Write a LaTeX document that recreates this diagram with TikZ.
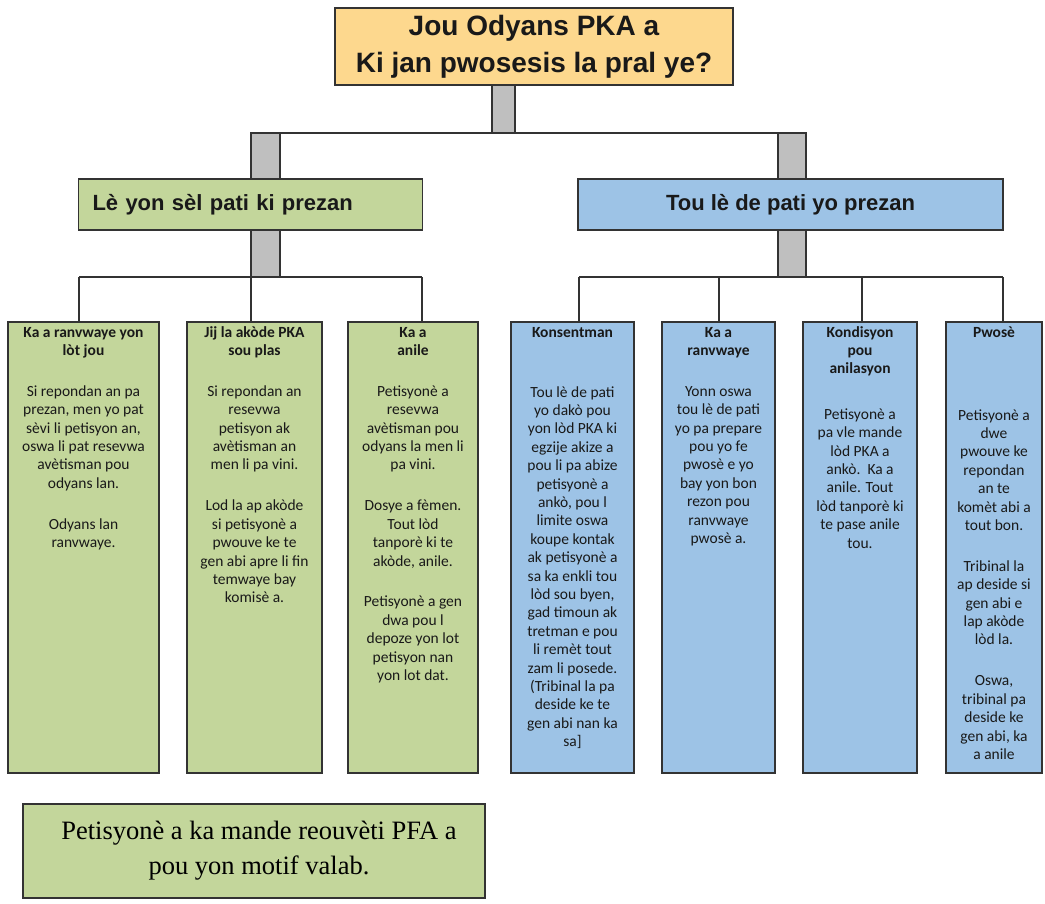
\documentclass[tikz,border=0pt]{standalone}
\usepackage{fontspec}
\setmainfont{Liberation Serif}
\newfontfamily\arialf{Liberation Sans}
\newfontfamily\calf{Carlito}
\definecolor{ylw}{HTML}{FDD88E}
\definecolor{grn}{HTML}{C3D69B}
\definecolor{blu}{HTML}{9DC3E6}
\definecolor{bargray}{HTML}{BFBFBF}
\definecolor{edge}{HTML}{333333}
\newcommand\fl{\rule{0pt}{12pt}}
\newcommand\tb{\bfseries}
\pgfdeclarelayer{bg}
\pgfsetlayers{bg,main}
\begin{document}
\begin{tikzpicture}[x=1pt,y=-1pt,
  every node/.style={inner sep=0pt, outer sep=0pt},
  frame/.style={draw=edge, line width=1.6pt, rectangle},
  conn/.style={draw=edge, line width=1.8pt},
  bar/.style={fill=bargray, draw=edge, line width=1.2pt},
  ctext/.style={anchor=north, align=center, font=\calf\fontsize{15.5}{18.4}\selectfont, text=black!90},
  cbox/.style={frame, minimum height=451pt},
]
\useasboundingbox (0,0) rectangle (1045,903);

% title
\node[frame, fill=ylw, minimum width=398pt, minimum height=77pt, align=center,
  font=\arialf\bfseries\fontsize{28}{37}\selectfont, text=black!90] (top) at (534,46.5)
  {Jou Odyans PKA a\\Ki jan pwosesis la pral ye?};

% middle boxes
\node[frame, fill=grn, text width=316pt, inner xsep=14pt, minimum height=51pt, align=left,
  font=\arialf\bfseries\fontsize{22}{26}\selectfont, text=black!90] (ml) at (250.5,204.5)
  {Lè yon sèl pati ki prezan};
\node[frame, fill=blu, minimum width=425pt, minimum height=51pt, align=center,
  font=\arialf\bfseries\fontsize{22}{26}\selectfont, text=black!90] (mr) at (790.5,204.5)
  {Tou lè de pati yo prezan};

% child boxes
\node[cbox, fill=grn, minimum width=151pt] (c1) at (83.5,547.5) {};
\node[cbox, fill=grn, minimum width=135pt] (c2) at (254.5,547.5) {};
\node[cbox, fill=grn, minimum width=130pt] (c3) at (413,547.5) {};
\node[cbox, fill=blu, minimum width=123pt] (c4) at (572.5,547.5) {};
\node[cbox, fill=blu, minimum width=113pt] (c5) at (718.5,547.5) {};
\node[cbox, fill=blu, minimum width=114pt] (c6) at (860,547.5) {};
\node[cbox, fill=blu, minimum width=96pt] (c7) at (994,547.5) {};

\node[ctext] (t1) at (83.5,325) {\fl\tb Ka a ranvwaye yon\\\tb lòt jou\\[22.5pt]Si repondan an pa\\prezan, men yo pat\\sèvi li petisyon an,\\oswa li pat resevwa\\avètisman pou\\odyans lan.\\[22.5pt]Odyans lan\\ranvwaye.};
\node[ctext] (t2) at (254.5,325) {\fl\tb Jij la akòde PKA\\\tb sou plas\\[22.5pt]Si repondan an\\resevwa\\petisyon ak\\avètisman an\\men li pa vini.\\[22.5pt]Lod la ap akòde\\si petisyonè a\\pwouve ke te\\gen abi apre li fin\\temwaye bay\\komisè a.};
\node[ctext] (t3) at (413,325) {\fl\tb Ka a\\\tb anile\\[22.5pt]Petisyonè a\\resevwa\\avètisman pou\\odyans la men li\\pa vini.\\[22.5pt]Dosye a fèmen.\\Tout lòd\\tanporè ki te\\akòde, anile.\\[22.5pt]Petisyonè a gen\\dwa pou l\\depoze yon lot\\petisyon nan\\yon lot dat.};
\node[ctext] (t4) at (572.5,325) {\fl\tb Konsentman\\[41.6pt]Tou lè de pati\\yo dakò pou\\yon lòd PKA ki\\egzije akize a\\pou li pa abize\\petisyonè a\\ankò, pou l\\limite oswa\\koupe kontak\\ak petisyonè a\\sa ka enkli tou\\lòd sou byen,\\gad timoun ak\\tretman e pou\\li remèt tout\\zam li posede.\\(Tribinal la pa\\deside ke te\\gen abi nan ka\\sa]};
\node[ctext] (t5) at (718.5,325) {\fl\tb Ka a\\\tb ranvwaye\\[22.5pt]Yonn oswa\\tou lè de pati\\yo pa prepare\\pou yo fe\\pwosè e yo\\bay yon bon\\rezon pou\\ranvwaye\\pwosè a.};
\node[ctext] (t6) at (860,325) {\fl\tb Kondisyon\\\tb pou\\\tb anilasyon\\[27pt]Petisyonè a\\pa vle mande\\lòd PKA a\\ankò.\ \ Ka a\\anile. Tout\\lòd tanporè ki\\te pase anile\\tou.};
\node[ctext] (t7) at (994,325) {\fl\tb Pwosè\\[64.6pt]Petisyonè a\\dwe\\pwouve ke\\repondan\\an te\\komèt abi a\\tout bon.\\[22.5pt]Tribinal la\\ap deside si\\gen abi e\\lap akòde\\lòd la.\\[22.5pt]Oswa,\\tribinal pa\\deside ke\\gen abi, ka\\a anile};

% bottom box
\node[frame, fill=grn, minimum width=462pt, minimum height=94pt] (bot) at (254,851) {};
\node[align=center, font=\fontsize{26.5}{35}\selectfont] (bott) at (259,851)
  {Petisyonè a ka mande reouvèti PFA a\\pou yon motif valab.};

% connectors
\coordinate (uL) at (251,133);
\coordinate (uR) at (806,133);
\coordinate (a1) at (79,277);
\coordinate (a2) at (251,277);
\coordinate (a3) at (422,277);
\coordinate (b1) at (579,277);
\coordinate (b2) at (719,277);
\coordinate (b3) at (862,277);
\coordinate (b4) at (1003,277);
\begin{pgfonlayer}{bg}
\fill[white] (0,0) rectangle (1045,903);
\draw[conn] (uL) -- (uR);
\draw[conn] (a1) -- (a3);
\draw[conn] (b1) -- (b4);
\draw[conn] (a1) -- (a1 |- c1.north);
\draw[conn] (a2) -- (a2 |- c2.north);
\draw[conn] (a3) -- (a3 |- c3.north);
\draw[conn] (b1) -- (b1 |- c4.north);
\draw[conn] (b2) -- (b2 |- c5.north);
\draw[conn] (b3) -- (b3 |- c6.north);
\draw[conn] (b4) -- (b4 |- c7.north);
\filldraw[bar] (492,85) rectangle (515,133);
\filldraw[bar] (251,133) rectangle (280,179);
\filldraw[bar] (778,133) rectangle (806,179);
\filldraw[bar] (251,230) rectangle (280,277);
\filldraw[bar] (778,230) rectangle (806,277);
\end{pgfonlayer}
\end{tikzpicture}
\end{document}
